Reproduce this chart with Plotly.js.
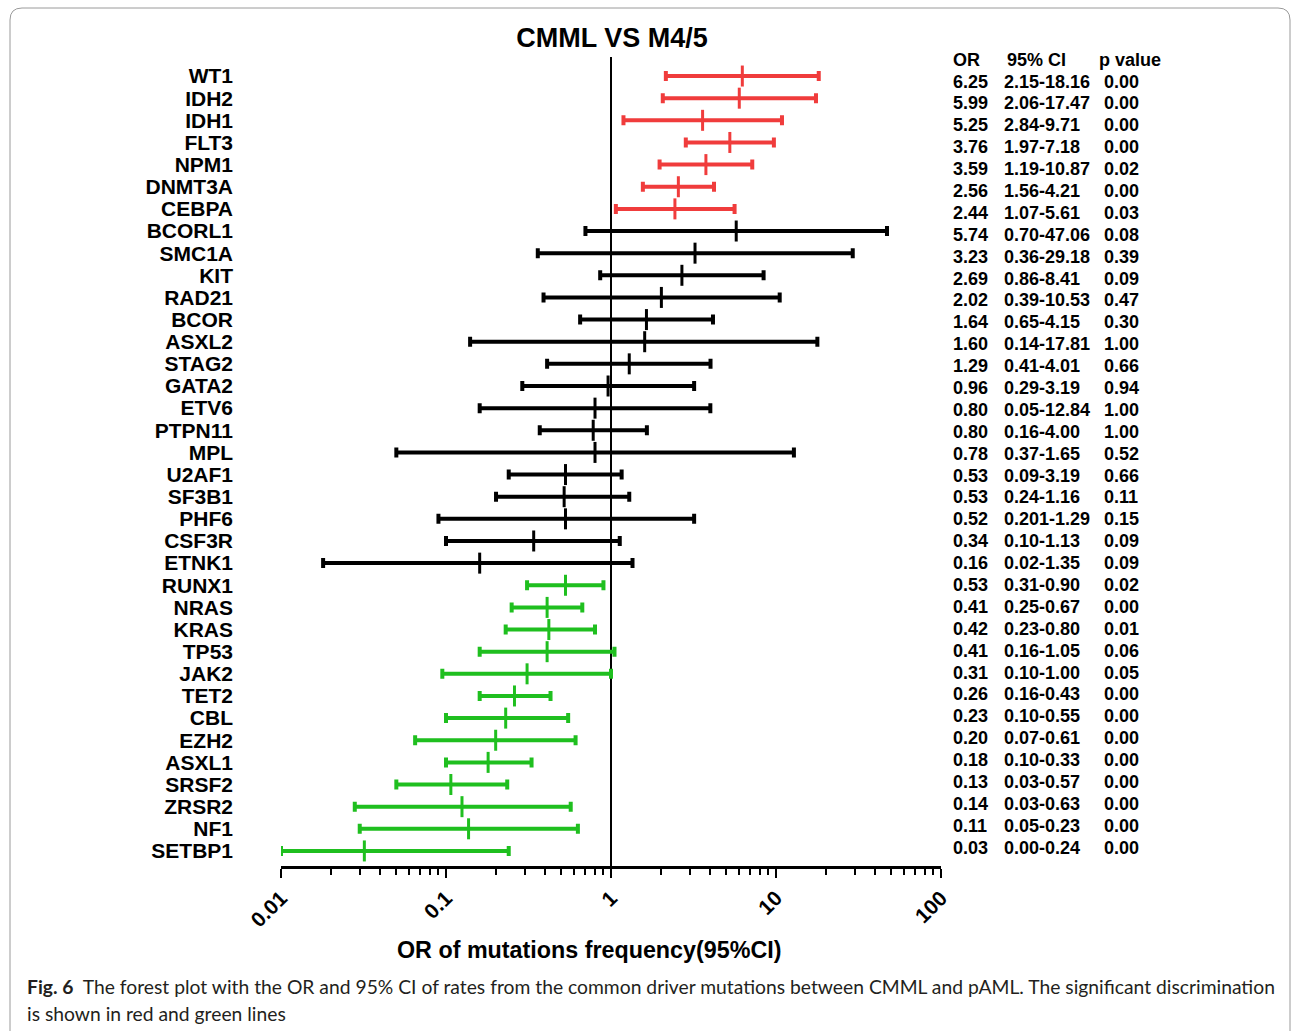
<!DOCTYPE html>
<html><head><meta charset="utf-8">
<script src="https://cdn.plot.ly/plotly-3.0.1.min.js"></script>
<style>html,body{margin:0;padding:0;background:#fff}#chart{width:1292px;height:1031px}</style>
</head><body><div id="chart"></div>
<script>
// ---- data ----
const genes = ['WT1','IDH2','IDH1','FLT3','NPM1','DNMT3A','CEBPA','BCORL1','SMC1A','KIT','RAD21','BCOR','ASXL2','STAG2','GATA2','ETV6','PTPN11','MPL','U2AF1','SF3B1','PHF6','CSF3R','ETNK1','RUNX1','NRAS','KRAS','TP53','JAK2','TET2','CBL','EZH2','ASXL1','SRSF2','ZRSR2','NF1','SETBP1'];
const groupOf = ['up','up','up','up','up','up','up',
  'ns','ns','ns','ns','ns','ns','ns','ns','ns','ns','ns','ns','ns','ns','ns','ns',
  'down','down','down','down','down','down','down','down','down','down','down','down','down'];
const orVals = [6.25,5.99,3.59,5.25,3.76,2.56,2.44,5.74,3.23,2.69,2.02,1.64,1.60,1.29,0.96,0.80,0.78,0.80,0.53,0.52,0.53,0.34,0.16,0.53,0.41,0.42,0.41,0.31,0.26,0.23,0.20,0.18,0.107,0.125,0.137,0.032];
const ciLow = [2.15,2.06,1.19,2.84,1.97,1.56,1.07,0.70,0.36,0.86,0.39,0.65,0.14,0.41,0.29,0.16,0.37,0.05,0.24,0.201,0.09,0.10,0.018,0.31,0.25,0.23,0.16,0.095,0.16,0.10,0.065,0.10,0.05,0.028,0.03,0.01];
const ciHigh = [18.16,17.47,10.87,9.71,7.18,4.21,5.61,47.06,29.18,8.41,10.53,4.15,17.81,4.01,3.19,4.00,1.65,12.84,1.16,1.29,3.19,1.13,1.35,0.90,0.67,0.80,1.05,1.00,0.43,0.55,0.61,0.33,0.235,0.57,0.63,0.24];
const tableHeader = ['OR','95% CI','p value'];
const tableOR = ['6.25','5.99','5.25','3.76','3.59','2.56','2.44','5.74','3.23','2.69','2.02','1.64','1.60','1.29','0.96','0.80','0.80','0.78','0.53','0.53','0.52','0.34','0.16','0.53','0.41','0.42','0.41','0.31','0.26','0.23','0.20','0.18','0.13','0.14','0.11','0.03'];
const tableCI = ['2.15-18.16','2.06-17.47','2.84-9.71','1.97-7.18','1.19-10.87','1.56-4.21','1.07-5.61','0.70-47.06','0.36-29.18','0.86-8.41','0.39-10.53','0.65-4.15','0.14-17.81','0.41-4.01','0.29-3.19','0.05-12.84','0.16-4.00','0.37-1.65','0.09-3.19','0.24-1.16','0.201-1.29','0.10-1.13','0.02-1.35','0.31-0.90','0.25-0.67','0.23-0.80','0.16-1.05','0.10-1.00','0.16-0.43','0.10-0.55','0.07-0.61','0.10-0.33','0.03-0.57','0.03-0.63','0.05-0.23','0.00-0.24'];
const tableP = ['0.00','0.00','0.00','0.00','0.02','0.00','0.03','0.08','0.39','0.09','0.47','0.30','1.00','0.66','0.94','1.00','1.00','0.52','0.66','0.11','0.15','0.09','0.09','0.02','0.00','0.01','0.06','0.05','0.00','0.00','0.00','0.00','0.00','0.00','0.00','0.00'];
const tickVals = [0.01,0.1,1,10,100];
const tickText = ['0.01','0.1','1','10','100'];
const refOR = 1;
const chartTitle = 'CMML VS M4/5';
const xTitle = 'OR of mutations frequency(95%CI)';
const captionBold = 'Fig. 6';
const captionLine1 = 'The forest plot with the OR and 95% CI of rates from the common driver mutations between CMML and pAML. The significant discrimination';
const captionLine2 = 'is shown in red and green lines';

// ---- styles ----
const colors = {up:'#f03c3c', ns:'#000000', down:'#1fbf1f'};
const W = 1292, H = 1031;
const px2x = p => p / W;
const px2y = p => 1 - p / H;
const plotTop = 57, plotBottom = 866;
const yDomain = [px2y(plotBottom), px2y(plotTop)];

const traces = [];
['up','ns','down'].forEach(g => {
  const idx = genes.map((_, i) => i).filter(i => groupOf[i] === g);
  traces.push({
    type:'scatter', mode:'markers', xaxis:'x', yaxis:'y',
    x: idx.map(i => orVals[i]), y: idx.map(i => genes[i]),
    marker:{symbol:'line-ns', size:15, color:colors[g], line:{color:colors[g], width:3}},
    error_x:{type:'data', symmetric:false,
      array: idx.map(i => ciHigh[i] - orVals[i]),
      arrayminus: idx.map(i => orVals[i] - ciLow[i]),
      color:colors[g], thickness:4, width:5},
    cliponaxis:false, hoverinfo:'skip', showlegend:false
  });
});

const tFont = {family:'Liberation Sans, Arial, sans-serif', size:18, color:'#000', weight:'bold'};
const rowIdx = genes.map((_, i) => i);
const colX = {or:953, ci:1004, p:1104};
const headX = [953, 1007, 1099];
traces.push({type:'scatter', mode:'text', xaxis:'x2', yaxis:'y2', x: headX, y:[-1,-1,-1], text: tableHeader,
  textposition:'middle right', textfont:tFont, hoverinfo:'skip', showlegend:false, cliponaxis:false});
[['or',tableOR],['ci',tableCI],['p',tableP]].forEach(([k, arr]) => {
  traces.push({type:'scatter', mode:'text', xaxis:'x2', yaxis:'y2',
    x: rowIdx.map(() => colX[k]), y: rowIdx, text: arr,
    textposition:'middle right', textfont:tFont, hoverinfo:'skip', showlegend:false, cliponaxis:false});
});

const layout = {
  width:W, height:H, margin:{l:0,r:0,t:0,b:0},
  paper_bgcolor:'#fff', plot_bgcolor:'rgba(0,0,0,0)',
  font:{family:'Liberation Sans, Arial, sans-serif', color:'#000'},
  title:{text:chartTitle, font:{size:27, weight:'bold', color:'#000'}, x:px2x(612), xanchor:'center', xref:'paper', y:px2y(38), yanchor:'middle', yref:'paper'},
  xaxis:{type:'log', domain:[px2x(281), px2x(941)], range:[-2,2], anchor:'y',
    tickmode:'array', tickvals:tickVals, ticktext:tickText, tickangle:-45,
    tickfont:{size:21, weight:'bold', color:'#000'},
    ticks:'outside', ticklen:9, tickwidth:2.5, tickcolor:'#000',
    showline:true, linewidth:2.5, linecolor:'#000', showgrid:false, zeroline:false,
    minor:{ticks:'outside', ticklen:6, tickwidth:2, tickcolor:'#000', dtick:'D1', showgrid:false}},
  yaxis:{type:'category', categoryorder:'array', categoryarray:genes, domain:yDomain,
    tickmode:'array', tickvals:genes, ticktext:genes,
    range:[35.68,-0.86], autorange:false, anchor:'x',
    showline:false, showgrid:false, zeroline:false, ticks:'',
    tickfont:{size:21, weight:'bold', color:'#000'}, ticklabelstandoff:47},
  xaxis2:{domain:[px2x(943), 1], range:[943, 1292], visible:false, anchor:'y2'},
  yaxis2:{domain:yDomain, range:[35.77,-1.19], visible:false, anchor:'x2'},
  shapes:[
    {type:'line', xref:'x', yref:'paper', x0:refOR, x1:refOR, y0:yDomain[0], y1:yDomain[1], line:{color:'#000', width:2}, layer:'below'},
    {type:'path', xref:'paper', yref:'paper', layer:'below', line:{color:'#9a9a9a', width:1},
     path:`M ${px2x(10)},${px2y(1040)} L ${px2x(10)},${px2y(20)} Q ${px2x(10)},${px2y(8)} ${px2x(22)},${px2y(8)} L ${px2x(1278)},${px2y(8)} Q ${px2x(1290)},${px2y(8)} ${px2x(1290)},${px2y(20)} L ${px2x(1290)},${px2y(1040)}`}
  ],
  annotations:[
    {xref:'paper', yref:'paper', x:px2x(589), y:px2y(950), xanchor:'center', yanchor:'middle', showarrow:false,
     text:xTitle, font:{family:'Liberation Sans, Arial, sans-serif', size:23.3, weight:'bold', color:'#000'}},
    {xref:'paper', yref:'paper', x:px2x(25), y:px2y(986), xanchor:'left', yanchor:'middle', showarrow:false,
     text:`<b>${captionBold}</b>\u00a0\u00a0${captionLine1}`, font:{family:'Lato, Open Sans, sans-serif', size:19.3, color:'#231f20'}},
    {xref:'paper', yref:'paper', x:px2x(25), y:px2y(1013), xanchor:'left', yanchor:'middle', showarrow:false,
     text:captionLine2, font:{family:'Lato, Open Sans, sans-serif', size:19.3, color:'#231f20'}}
  ]
};
Plotly.newPlot('chart', traces, layout, {displayModeBar:false, staticPlot:true});
</script></body></html>
